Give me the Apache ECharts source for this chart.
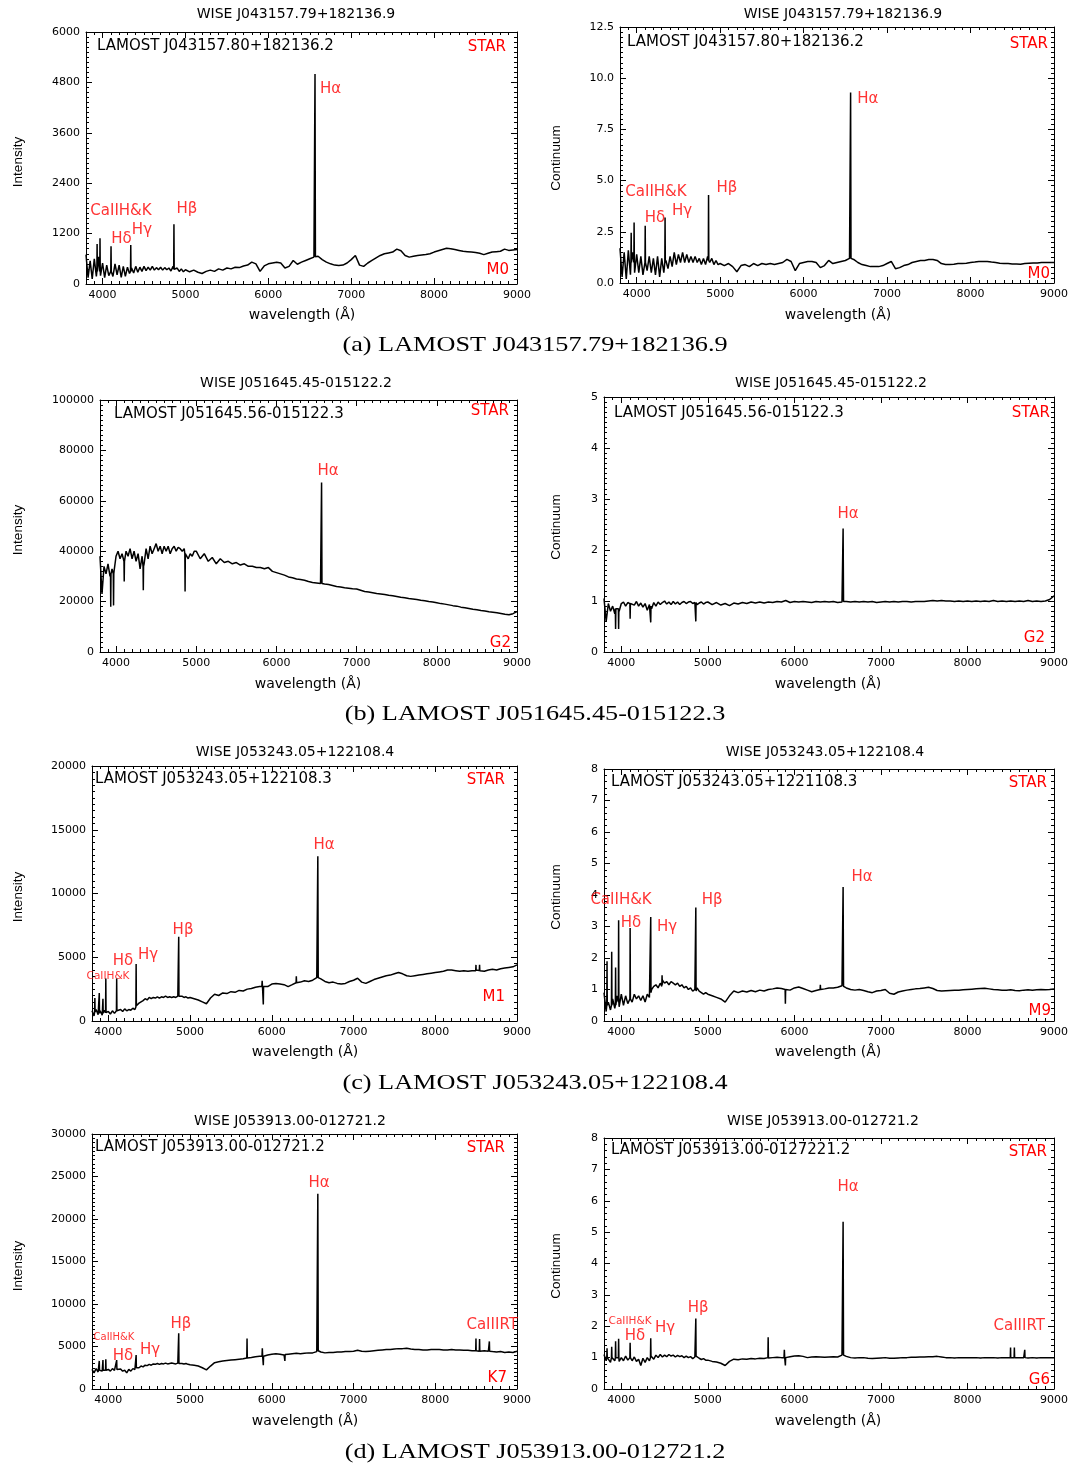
<!DOCTYPE html>
<html><head><meta charset="utf-8">
<script src="https://cdn.jsdelivr.net/npm/echarts@6/dist/echarts.min.js"></script>
<style>html,body{margin:0;padding:0;background:#fff}#c{width:1074px;height:1465px}</style>
</head><body><div id="c"></div>
<script>
// ---------- DATA ----------
const X_TICKS = [4000, 5000, 6000, 7000, 8000, 9000];
const WAVE = [3800,3825,3850,3875,3900,3925,3950,3975,
 4000,4025,4050,4075,4100,4125,4150,4175,
 4200,4225,4250,4275,4300,4325,4350,4375,
 4400,4425,4450,4475,4500,4525,4550,4575,
 4600,4625,4650,4675,4700,4725,4750,4775,
 4800,4825,4850,4875,4900,4925,4950,4975,
 5000,5050,5100,5150,5200,5250,5300,5350,5400,5450,
 5500,5550,5600,5650,5700,5750,5800,5850,5900,5950,
 6000,6050,6100,6150,6200,6250,6300,6350,6400,6450,
 6500,6550,6600,6650,6700,6750,6800,6850,6900,6950,
 7000,7050,7100,7150,7200,7250,7300,7350,7400,7450,
 7500,7550,7600,7650,7700,7750,7800,7850,7900,7950,
 8000,8050,8100,8150,8200,8250,8300,8350,8400,8450,
 8500,8550,8600,8650,8700,8750,8800,8850,8900,8950,
 9000];

const FLUX_A_L = [700,150,550,120,600,180,650,200,
 500,150,450,200,550,180,480,220,
 450,160,420,180,400,250,380,260,
 420,280,400,300,420,320,400,330,
 420,330,390,340,400,330,390,340,
 380,310,420,320,380,300,360,290,
 340,290,330,280,250,300,330,300,360,330,
 380,360,400,390,430,450,520,480,300,430,
 480,500,520,500,380,420,560,470,520,560,
 600,640,660,580,520,480,450,440,450,500,
 580,680,450,420,500,560,620,680,720,740,
 760,830,790,680,640,660,680,690,700,720,
 760,790,820,850,840,820,800,780,770,760,
 750,730,700,730,760,770,780,830,800,810,
 820];
const LINES_A_L = [[3931,300],[3934,950],[3937,300],[3966,300],[3969,1090],[3972,300],
 [4099,300],[4102,900],[4105,300],[4337,300],[4340,930],[4343,300],
 [4858,350],[4861,1420],[4864,350],[6558,640],[6563,5000],[6568,650]];
const LABELS_A_L = [['CaIIH&K',4222,1738],['Hδ',4228,1070],['Hγ',4475,1286],['Hβ',5017,1786],['Hα',6752,4643]];

const FLUX_A_R = [1.7,0.3,1.5,0.2,1.6,0.4,1.5,0.5,
 1.4,0.5,1.3,0.4,1.4,0.6,1.3,0.5,
 1.2,0.4,1.3,0.3,1.2,0.5,1.1,0.7,
 1.3,0.8,1.5,0.9,1.4,1.0,1.5,1.0,
 1.4,1.0,1.3,1.0,1.3,1.0,1.2,0.9,
 1.2,0.9,1.3,1.0,1.2,0.9,1.1,0.9,
 0.95,0.85,0.95,0.8,0.55,0.85,0.9,0.8,0.95,0.85,
 0.95,0.9,0.95,0.9,0.95,1.0,1.15,1.05,0.6,0.95,
 1.0,1.05,1.05,1.0,0.75,0.85,1.1,0.95,1.0,1.05,
 1.1,1.2,1.15,1.0,0.9,0.85,0.8,0.8,0.8,0.85,
 0.95,1.05,0.7,0.75,0.85,0.9,1.0,1.05,1.1,1.1,
 1.15,1.15,1.1,0.95,0.9,0.9,0.92,0.95,0.95,0.97,
 1.0,1.02,1.05,1.05,1.05,1.02,1.0,0.97,0.95,0.95,
 0.93,0.93,0.92,0.95,0.97,0.98,0.98,1.0,1.0,1.0,
 1.0];
const LINES_A_R = [[3931,1.0],[3934,2.45],[3937,1.0],[3966,1.0],[3969,2.95],[3972,1.0],
 [4099,1.0],[4102,2.8],[4105,1.0],[4337,1.0],[4340,3.2],[4343,1.0],
 [4858,1.1],[4861,4.3],[4864,1.1],[6558,1.2],[6563,9.3],[6568,1.2]];
const LABELS_A_R = [['CaIIH&K',4231,4.44],['Hδ',4219,3.17],['Hγ',4543,3.52],['Hβ',5081,4.64],['Hα',6770,8.98]];

const FLUX_B_L = [38000,23000,34000,31000,35000,30000,33000,32000,
 38000,40000,37000,39000,36000,40000,38000,41000,
 37000,40000,36000,39000,33000,38000,35000,41000,
 37000,42000,39000,41000,43000,40000,42000,39000,
 42000,40000,42000,39000,41000,42000,40000,41500,
 41000,40000,41000,39000,37000,39000,38000,40000,
 40000,37000,39000,36000,37500,35000,37000,35500,36000,35000,
 35500,34500,35000,34000,34000,33500,33500,33000,33500,32000,
 31500,31000,30500,29800,29500,29000,28800,28500,28000,27600,
 27400,27200,27000,26800,26400,26000,25800,25500,25300,25100,
 25000,24500,24000,23800,23500,23200,23000,22800,22500,22300,
 22000,21700,21500,21200,21000,20800,20500,20300,20000,19800,
 19500,19200,19000,18700,18400,18200,17800,17600,17300,17000,
 16800,16500,16300,16000,15800,15600,15300,15000,14800,15200,
 16000];
const LINES_B_L = [[3931,31000],[3934,18000],[3937,31000],[3966,31000],[3969,18500],[3972,31000],
 [4099,36000],[4102,28000],[4105,36000],[4337,34000],[4340,24500],[4343,34000],
 [4858,39000],[4861,24000],[4864,39000],[6558,27200],[6563,67300],[6568,27200]];
const LABELS_B_L = [['Hα',6643,71800]];

const FLUX_B_R = [1.05,0.6,0.95,0.8,0.9,0.75,0.85,0.8,
 0.95,0.98,0.9,0.97,0.88,0.98,0.92,0.99,
 0.9,0.96,0.88,0.95,0.82,0.93,0.85,0.97,
 0.9,0.98,0.93,0.97,1.0,0.94,0.98,0.93,
 0.99,0.94,0.98,0.93,0.97,0.99,0.95,0.98,
 0.99,0.95,0.97,0.93,0.96,0.98,0.94,0.97,
 0.98,0.93,0.97,0.92,0.95,0.91,0.96,0.94,0.97,0.95,
 0.98,0.96,0.98,0.96,0.98,0.97,0.99,0.98,1.01,0.97,
 0.99,0.98,0.99,0.98,0.97,0.99,0.98,0.99,0.98,0.99,
 0.97,0.98,0.99,0.98,0.99,0.98,0.99,0.98,0.99,0.97,
 0.98,0.99,0.98,0.99,0.98,0.99,0.99,0.98,0.99,0.99,
 0.99,1.0,1.01,1.0,1.01,1.0,1.0,0.99,1.0,0.99,
 1.0,0.99,1.0,0.99,1.0,0.99,1.01,0.99,1.0,0.99,
 1.0,0.99,1.0,0.99,1.01,0.99,1.0,0.99,1.0,1.03,
 1.1];
const LINES_B_R = [[3931,0.85],[3934,0.45],[3937,0.85],[3966,0.85],[3969,0.45],[3972,0.85],
 [4099,0.95],[4102,0.65],[4105,0.95],[4337,0.9],[4340,0.58],[4343,0.9],
 [4858,0.97],[4861,0.6],[4864,0.97],[6558,0.99],[6563,2.42],[6568,0.99]];
const LABELS_B_R = [['Hα',6621,2.71]];

const FLUX_C_L = [800,400,900,500,800,450,850,600,
 750,550,800,600,850,700,900,750,
 950,800,900,850,1000,900,1200,1400,
 1500,1600,1750,1650,1850,1750,1850,1800,
 1900,1800,1900,1850,1950,1850,1900,1850,
 1900,1850,1950,2000,1950,1850,1900,1800,
 1850,1750,1650,1500,1350,1800,2100,2000,2200,2150,
 2300,2250,2400,2350,2500,2550,2650,2700,2650,2700,
 2900,2950,2900,2850,2700,2850,3000,3050,3150,3100,
 3200,3400,3300,3100,3000,3050,2950,2900,2950,3100,
 3200,3350,3050,2950,3100,3250,3350,3450,3550,3600,
 3700,3800,3700,3550,3500,3550,3600,3650,3700,3750,
 3800,3850,3900,4000,4000,3950,3900,3950,3900,3950,
 4000,3950,3900,4000,4050,4000,4100,4150,4200,4250,
 4400];
const LINES_C_L = [[3832,700],[3835,1800],[3838,700],[3886,600],[3889,2200],[3892,600],
 [3931,600],[3934,1750],[3937,600],[3966,650],[3969,3340],[3972,650],
 [4099,800],[4102,3340],[4105,800],[4337,1100],[4340,4470],[4343,1200],
 [4858,1950],[4861,6600],[4864,1950],[5878,2700],[5882,3150],[5886,2700],
 [5893,2700],[5896,1300],[5899,2700],[6297,3000],[6300,3500],[6303,3000],
 [6558,3400],[6563,12920],[6568,3400],[8495,3950],[8498,4400],[8501,3950],
 [8539,3950],[8542,4400],[8545,3950]];
const LABELS_C_L = [['CaIIH&K',3996,3530],['Hδ',4179,4706],['Hγ',4485,5176],['Hβ',4914,7137],['Hα',6640,13800]];

const FLUX_C_R = [0.9,0.3,0.6,0.35,0.7,0.4,0.8,0.45,
 0.85,0.5,0.8,0.55,0.9,0.6,0.85,0.7,
 0.8,0.65,0.8,0.6,0.85,0.75,1.0,1.1,
 1.15,1.05,1.2,1.3,1.2,1.25,1.15,1.25,
 1.2,1.15,1.2,1.1,1.15,1.05,1.1,1.0,
 1.05,0.95,1.0,1.05,0.95,0.9,0.85,0.9,
 0.85,0.8,0.75,0.7,0.6,0.8,0.95,0.9,0.95,0.92,
 0.97,0.93,0.98,0.95,1.0,1.02,1.05,1.03,1.0,0.98,
 1.05,1.08,1.03,0.98,0.93,0.97,1.0,1.02,1.05,1.05,
 1.07,1.12,1.05,1.0,0.98,1.0,0.97,0.93,0.9,0.95,
 0.97,1.0,0.88,0.85,0.92,0.95,0.98,1.0,1.02,1.03,
 1.05,1.07,1.03,0.97,0.95,0.96,0.97,0.98,0.98,0.99,
 1.0,1.01,1.02,1.03,1.04,1.02,1.0,0.99,0.98,0.98,
 0.99,0.97,0.96,0.98,0.99,0.98,0.99,1.0,0.99,1.0,
 1.02];
const LINES_C_R = [[3832,0.5],[3835,1.9],[3838,0.5],[3886,0.5],[3889,2.2],[3892,0.5],
 [3931,0.5],[3934,1.7],[3937,0.5],[3966,0.6],[3969,3.2],[3972,0.6],
 [4099,0.7],[4102,2.95],[4105,0.7],[4337,0.8],[4340,3.3],[4343,0.9],
 [4468,1.1],[4471,1.45],[4474,1.15],[4858,0.95],[4861,3.6],[4864,0.95],
 [5893,1.0],[5896,0.55],[5899,1.0],[6297,1.0],[6300,1.15],[6303,1.0],
 [6558,1.1],[6563,4.25],[6568,1.1]];
const LABELS_C_R = [['CaIIH&K',3997,3.84],['Hδ',4112,3.11],['Hγ',4528,2.98],['Hβ',5049,3.84],['Hα',6783,4.57]];

const FLUX_D_L = [2300,1900,2400,2000,2300,2100,2400,2200,
 2300,2100,2400,2200,2300,2150,2350,2100,
 2200,1900,2300,2100,2400,2300,2600,2500,
 2700,2600,2800,2750,2900,2800,2950,2900,
 3000,2900,3000,2950,3050,2950,3000,3050,
 3000,2950,3050,3100,3000,2950,3000,2900,
 2850,2800,2700,2500,2250,2700,3100,3200,3300,3350,
 3400,3450,3500,3550,3650,3700,3800,3850,3900,4000,
 4100,4150,4100,4000,4100,4150,4200,4150,4200,4250,
 4250,4400,4350,4250,4300,4300,4350,4350,4400,4400,
 4450,4550,4450,4400,4450,4500,4550,4600,4650,4650,
 4700,4750,4750,4800,4700,4650,4650,4600,4600,4650,
 4650,4650,4600,4600,4650,4600,4600,4550,4550,4500,
 4500,4450,4500,4450,4400,4350,4400,4300,4350,4300,
 4450];
const LINES_D_L = [[3886,2200],[3889,3300],[3892,2200],[3931,2200],[3934,3400],[3937,2200],
 [3966,2200],[3969,3500],[3972,2200],[4099,2300],[4102,3400],[4105,2300],
 [4337,2400],[4340,4000],[4343,2500],[4858,3000],[4861,6550],[4864,3000],
 [5694,3650],[5697,5950],[5700,3650],[5880,3850],[5884,4800],[5888,3850],
 [5893,3850],[5896,2800],[5899,3850],[6157,4050],[6160,3300],[6163,4050],
 [6558,4400],[6563,22960],[6568,4500],[8495,4500],[8498,5950],[8501,4500],
 [8539,4450],[8542,5870],[8545,4450],[8659,4450],[8662,5600],[8665,4450]];
const LABELS_D_L = [['CaIIH&K',4069,6118],['Hδ',4179,3882],['Hγ',4510,4588],['Hβ',4889,7647],['Hα',6578,24235],['CaIIIRT',8696,7529]];

const FLUX_D_R = [1.1,0.9,1.05,0.85,1.0,0.9,1.05,0.88,
 1.0,0.9,1.05,0.92,1.0,0.9,1.02,0.88,
 0.95,0.75,0.98,0.85,1.0,0.9,1.05,0.95,
 1.08,1.0,1.1,1.02,1.08,1.03,1.1,1.05,
 1.08,1.02,1.07,1.03,1.06,1.0,1.05,1.0,
 1.03,0.97,1.02,1.04,0.98,0.94,0.97,0.92,
 0.92,0.88,0.86,0.82,0.75,0.88,0.95,0.93,0.96,0.95,
 0.97,0.96,0.98,0.97,0.99,1.0,1.01,1.0,1.02,1.03,
 1.05,1.06,1.04,1.0,1.02,1.03,1.02,1.01,1.02,1.03,
 1.02,1.08,1.04,1.0,0.99,1.0,1.0,0.98,0.97,0.98,
 0.99,1.0,0.98,0.98,0.99,1.0,1.0,1.01,1.01,1.02,
 1.02,1.03,1.03,1.04,1.02,1.0,1.0,0.99,1.0,1.0,
 1.0,1.0,1.0,0.99,1.0,1.0,1.0,0.99,1.0,1.0,
 1.0,0.99,1.0,1.0,0.99,1.0,0.99,1.0,1.0,1.0,
 1.0];
const LINES_D_R = [[3832,1.0],[3835,1.3],[3838,1.0],[3886,1.0],[3889,1.35],[3892,1.0],
 [3931,1.0],[3934,1.52],[3937,1.0],[3966,1.0],[3969,1.6],[3972,1.0],
 [4099,1.0],[4102,1.47],[4105,1.0],[4337,1.0],[4340,1.62],[4343,1.05],
 [4858,1.05],[4861,2.25],[4864,1.05],[5694,1.0],[5697,1.65],[5700,1.0],
 [5880,1.0],[5884,1.25],[5888,1.0],[5893,1.0],[5896,0.75],[5899,1.0],
 [6558,1.08],[6563,5.33],[6568,1.08],[8495,1.0],[8498,1.32],[8501,1.0],
 [8539,1.0],[8542,1.32],[8545,1.0],[8659,1.0],[8662,1.25],[8665,1.0]];
const LABELS_D_R = [['CaIIH&K',4101,2.17],['Hδ',4158,1.69],['Hγ',4505,1.94],['Hβ',4887,2.58],['Hα',6621,6.43],['CaIIIRT',8598,2.0]];

const TITLES = ['WISE J043157.79+182136.9','WISE J043157.79+182136.9','WISE J051645.45-015122.2','WISE J051645.45-015122.2',
 'WISE J053243.05+122108.4','WISE J053243.05+122108.4','WISE J053913.00-012721.2','WISE J053913.00-012721.2'];
const OBJECTS = ['LAMOST J043157.80+182136.2','LAMOST J043157.80+182136.2','LAMOST J051645.56-015122.3','LAMOST J051645.56-015122.3',
 'LAMOST J053243.05+122108.3','LAMOST J053243.05+1221108.3','LAMOST J053913.00-012721.2','LAMOST J053913.00-0127221.2'];
const CLASSES = ['M0','M0','G2','G2','M1','M9','K7','G6'];
const Y_NAMES = ['Intensity','Continuum','Intensity','Continuum','Intensity','Continuum','Intensity','Continuum'];
const Y_MAX = [6000, 12.5, 100000, 5, 20000, 8, 30000, 8];
const Y_STEP = [1200, 2.5, 20000, 1, 5000, 1, 5000, 1];
const CAPTIONS = ['(a) LAMOST J043157.79+182136.9','(b) LAMOST J051645.45-015122.3','(c) LAMOST J053243.05+122108.4','(d) LAMOST J053913.00-012721.2'];

const FLUXES = [FLUX_A_L,FLUX_A_R,FLUX_B_L,FLUX_B_R,FLUX_C_L,FLUX_C_R,FLUX_D_L,FLUX_D_R];
const LINES = [LINES_A_L,LINES_A_R,LINES_B_L,LINES_B_R,LINES_C_L,LINES_C_R,LINES_D_L,LINES_D_R];
const LABELS = [LABELS_A_L,LABELS_A_R,LABELS_B_L,LABELS_B_R,LABELS_C_L,LABELS_C_R,LABELS_D_L,LABELS_D_R];

// ---------- LAYOUT ----------
const LAYOUT = [
 {box:[86,32,431,252],  dec:0, minor:10, title:[296,14],  xname:[302,315],  yname:[18,162],  obj:[97,46],   star:[506,47],   cls:[509,270],  smallFs:15},
 {box:[620,27,434,256], dec:1, minor:10, title:[843,14],  xname:[838,315],  yname:[556,158], obj:[627,42],  star:[1048,44],  cls:[1050,274], smallFs:15},
 {box:[100,400,417,252],dec:0, minor:10, title:[296,383], xname:[308,684],  yname:[18,530],  obj:[114,414], star:[509,411],  cls:[511,643],  smallFs:15},
 {box:[604,397,450,255],dec:0, minor:10, title:[831,383], xname:[828,684],  yname:[556,527], obj:[614,413], star:[1050,413], cls:[1045,638], smallFs:15},
 {box:[92,766,425,255], dec:0, minor:10, title:[295,752], xname:[305,1052], yname:[18,897],  obj:[95,779],  star:[505,780],  cls:[505,997],  smallFs:10.5},
 {box:[604,769,450,252],dec:0, minor:5,  title:[825,752], xname:[828,1052], yname:[556,897], obj:[611,782], star:[1047,783], cls:[1051,1011],smallFs:15},
 {box:[92,1134,425,255],dec:0, minor:10, title:[290,1121],xname:[305,1421], yname:[18,1266], obj:[95,1147], star:[505,1148], cls:[507,1378], smallFs:10},
 {box:[604,1138,450,251],dec:0,minor:5,  title:[823,1121],xname:[828,1421], yname:[556,1266],obj:[611,1150],star:[1047,1152],cls:[1050,1380],smallFs:10.5}
];
const CAPTION_Y = [345, 714, 1083, 1452];
const SANS = 'DejaVu Sans';
const RED = '#ff0000';

function mergeSpectrum(flux, lines) {
  const n = Math.min(WAVE.length, flux.length);
  const pts = [];
  for (let k = 0; k < n; k++) pts.push([WAVE[k], flux[k]]);
  lines.forEach(p => pts.push(p));
  pts.sort((a, b) => a[0] - b[0]);
  return pts;
}

const grid = [], xAxis = [], yAxis = [], series = [], graphic = [];
LAYOUT.forEach((L, i) => {
  const [l, t, w, h] = L.box;
  grid.push({left: l, top: t, width: w, height: h, containLabel: false});
  const line = {show: true, onZero: false, lineStyle: {color: '#000', width: 1}};
  const tick = {color: '#000', width: 1};
  ['bottom', 'top'].forEach(pos => {
    xAxis.push({type: 'value', gridIndex: i, min: 3800, max: 9000, position: pos,
      axisLine: line,
      axisTick: {show: true, inside: true, length: 6, customValues: X_TICKS, lineStyle: tick},
      axisLabel: {show: pos === 'bottom', customValues: X_TICKS, color: '#000', fontSize: 11, fontFamily: SANS, margin: 6,
        formatter: v => String(v)},
      splitLine: {show: false}});
    xAxis.push({type: 'value', gridIndex: i, min: 3800, max: 9000, interval: 100, position: pos,
      axisLine: {show: false, onZero: false},
      axisTick: {show: true, inside: true, length: 3, lineStyle: tick},
      axisLabel: {show: false}, splitLine: {show: false}});
  });
  ['left', 'right'].forEach(pos => {
    yAxis.push({type: 'value', gridIndex: i, min: 0, max: Y_MAX[i], interval: Y_STEP[i], position: pos,
      axisLine: line,
      axisTick: {show: true, inside: true, length: 6, lineStyle: tick},
      minorTick: {show: true, splitNumber: L.minor, length: 3, lineStyle: tick},
      axisLabel: {show: pos === 'left', color: '#000', fontSize: 11, fontFamily: SANS, margin: 6,
        formatter: v => v.toFixed(L.dec)},
      splitLine: {show: false}, minorSplitLine: {show: false}});
  });
  series.push({type: 'line', xAxisIndex: 4 * i, yAxisIndex: 2 * i, data: mergeSpectrum(FLUXES[i], LINES[i]),
    symbol: 'none', showSymbol: false, silent: true, animation: false,
    lineStyle: {color: '#000', width: 1.5}});
  series.push({type: 'scatter', xAxisIndex: 4 * i, yAxisIndex: 2 * i, symbolSize: 0, silent: true, animation: false,
    itemStyle: {color: 'rgba(0,0,0,0)'},
    label: {show: true, position: 'inside', color: RED, fontFamily: SANS, fontSize: 15},
    data: LABELS[i].map(a => ({value: [a[1], a[2]], name: a[0], label: {show: true, position: 'inside', formatter: a[0],
      color: RED, fontFamily: SANS, fontSize: a[0] === 'CaIIH&K' ? L.smallFs : 15}}))});
  const txt = (x, y, text, opts) => graphic.push(Object.assign({type: 'text', x: x, y: y, silent: true,
    style: Object.assign({text: text, fill: '#000', fontFamily: SANS, fontSize: 15, textAlign: 'left', align: 'left',
      textVerticalAlign: 'middle', verticalAlign: 'middle'}, opts.style || {})}, opts.el || {}));
  txt(L.title[0], L.title[1], TITLES[i], {style: {fontSize: 14, textAlign: 'center', align: 'center'}});
  txt(L.xname[0], L.xname[1], 'wavelength (Å)', {style: {fontSize: 14, textAlign: 'center', align: 'center'}});
  txt(L.yname[0], L.yname[1], Y_NAMES[i], {style: {fontSize: 13.5, fontFamily: 'Liberation Sans', textAlign: 'center', align: 'center'}, el: {rotation: Math.PI / 2}});
  txt(L.obj[0], L.obj[1], OBJECTS[i], {style: {fontSize: 15}});
  txt(L.star[0], L.star[1], 'STAR', {style: {fontSize: 15, fill: RED, textAlign: 'right', align: 'right'}});
  txt(L.cls[0], L.cls[1], CLASSES[i], {style: {fontSize: 15, fill: RED, textAlign: 'right', align: 'right'}});
});
CAPTIONS.forEach((c, k) => {
  graphic.push({type: 'text', x: 535, y: CAPTION_Y[k], scaleX: 1.25, silent: true,
    style: {text: c, fill: '#000', fontFamily: 'Liberation Serif', fontSize: 21, textAlign: 'center', align: 'center',
      textVerticalAlign: 'middle', verticalAlign: 'middle'}});
});

const chart = echarts.init(document.getElementById('c'), null, {renderer: 'canvas'});
chart.setOption({animation: false, backgroundColor: '#fff', grid, xAxis, yAxis, series, graphic});
</script>
</body></html>
